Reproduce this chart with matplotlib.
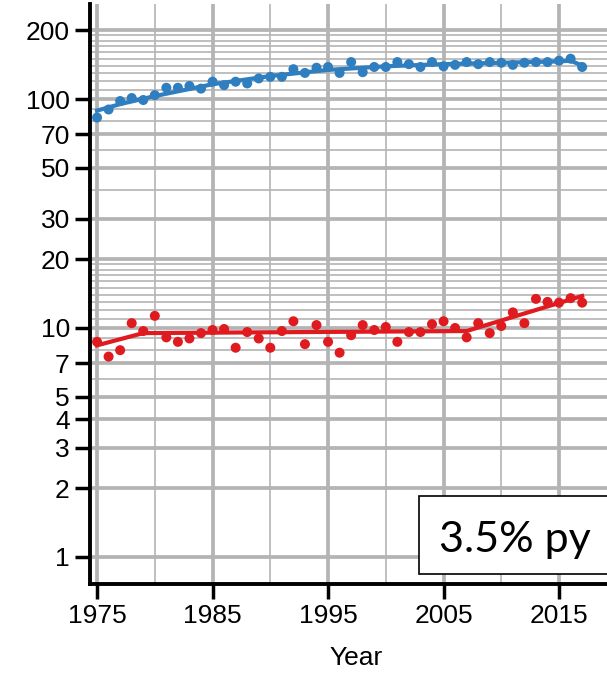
#!/usr/bin/env python3
"""Log-scale yearly series (blue and red) with fitted trend lines."""
import matplotlib

matplotlib.use("Agg")
import matplotlib.pyplot as plt
from matplotlib.patches import Rectangle
from matplotlib.ticker import FixedLocator, NullFormatter

YEARS = list(range(1975, 2018))

# upper series, one point per year
BLUE_POINTS = [83, 90, 98, 101, 99, 104, 112, 112, 114, 111,
               119, 115, 119, 117, 123, 125, 125, 135, 130, 137,
               138, 130, 145, 131, 138, 138, 145, 142, 138, 145,
               139, 141, 145, 142, 145, 144, 141, 144, 145, 145,
               147, 150, 138]
# lower series, one point per year
RED_POINTS = [8.7, 7.5, 8.0, 10.5, 9.7, 11.3, 9.1, 8.7, 9.0, 9.5,
              9.8, 9.9, 8.2, 9.6, 9.0, 8.2, 9.7, 10.7, 8.5, 10.3,
              8.7, 7.8, 9.3, 10.3, 9.8, 10.1, 8.7, 9.6, 9.6, 10.4,
              10.7, 10.0, 9.1, 10.5, 9.5, 10.2, 11.7, 10.5, 13.4, 13.0,
              12.9, 13.5, 12.9]

# fitted lines
BLUE_FIT_YEARS = [1975, 1977, 1980, 1985, 1990, 1995, 2000, 2005, 2010, 2015, 2016, 2017]
BLUE_FIT = [89, 95, 103, 116, 126, 134, 139, 142, 144, 146, 147, 140]
RED_FIT_YEARS = [1975, 1979, 2007, 2017]
RED_FIT = [8.4, 9.5, 9.7, 13.8]

Y_MAJOR = [1, 2, 3, 4, 5, 7, 10, 20, 30, 50, 70, 100, 200]
Y_MINOR = [6, 8, 9] + list(range(11, 20)) + [40, 60, 80, 90] + list(range(110, 200, 10))
X_MAJOR = [1975, 1985, 1995, 2005, 2015]
X_MINOR = [1980, 1990, 2000, 2010, 2020]

ANNOTATION = "3.5% py"

BLUE = "#2f7fc0"
RED = "#e01b1f"
GRID = "#b4b4b4"


def main() -> None:
    plt.rcParams["font.family"] = ["Liberation Sans", "DejaVu Sans"]

    fig = plt.figure(figsize=(6.07, 6.74), dpi=100)
    ax = fig.add_axes([90 / 607, 90 / 674, 532 / 607, 580 / 674])

    ax.set_yscale("log")
    ax.set_xlim(1974.39, 2020.45)
    ax.set_ylim(0.762, 260)

    ax.yaxis.set_major_locator(FixedLocator(Y_MAJOR))
    ax.yaxis.set_minor_locator(FixedLocator(Y_MINOR))
    ax.yaxis.set_minor_formatter(NullFormatter())
    ax.set_yticklabels([str(v) for v in Y_MAJOR])
    ax.xaxis.set_major_locator(FixedLocator(X_MAJOR))
    ax.xaxis.set_minor_locator(FixedLocator(X_MINOR))
    ax.set_xticklabels([str(v) for v in X_MAJOR])

    ax.grid(True, which="major", color=GRID, linewidth=2.7)
    ax.grid(True, which="minor", color=GRID, linewidth=1.2)
    ax.set_axisbelow(True)

    ax.tick_params(which="major", length=11, width=2.5, direction="out",
                   labelsize=19, pad=3.5, color="black")
    ax.tick_params(which="minor", length=0)

    for side in ("top", "right"):
        ax.spines[side].set_visible(False)
    for side in ("left", "bottom"):
        ax.spines[side].set_linewidth(2.8)

    ax.plot(BLUE_FIT_YEARS, BLUE_FIT, color=BLUE, linewidth=3.0, zorder=3)
    ax.scatter(YEARS, BLUE_POINTS, s=52, color=BLUE, edgecolors="none", zorder=4)
    ax.plot(RED_FIT_YEARS, RED_FIT, color=RED, linewidth=3.0, zorder=3)
    ax.scatter(YEARS, RED_POINTS, s=52, color=RED, edgecolors="none", zorder=4)

    ax.set_xlabel("Year", fontsize=19, labelpad=13)

    box = Rectangle((0.618, 0.0172), 0.5, 0.1345, transform=ax.transAxes,
                    facecolor="white", edgecolor="black", linewidth=1.2,
                    zorder=5, clip_on=False)
    ax.add_patch(box)
    ax.text(0.656, 0.055, ANNOTATION, transform=ax.transAxes, fontsize=31,
            family=["Lato", "DejaVu Sans"], va="baseline", ha="left", zorder=6)

    fig.savefig("out.png", dpi=100)
    plt.close(fig)


if __name__ == "__main__":
    main()
